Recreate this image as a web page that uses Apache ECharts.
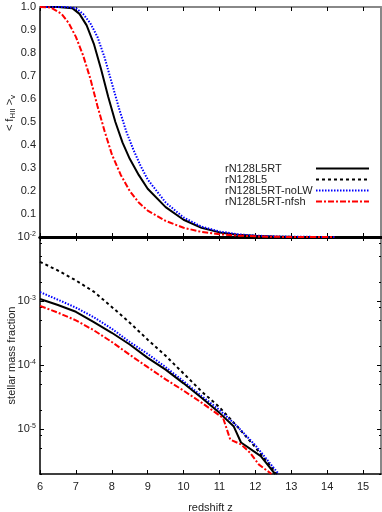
<!DOCTYPE html>
<html>
<head>
<meta charset="utf-8">
<script src="https://cdn.jsdelivr.net/npm/echarts@6/dist/echarts.min.js"></script>
<style>
  html, body { margin: 0; padding: 0; background: #fff; }
  #chart { width: 382px; height: 512px; }
</style>
</head>
<body>
<div id="chart"></div>
<script>
// names of the runs
var names = ['rN128L5RT', 'rN128L5', 'rN128L5RT-noLW', 'rN128L5RT-nfsh'];

// top panel: volume weighted ionized fraction
var zTopRT = [6, 6.5, 6.9, 7.1, 7.3, 7.5, 7.7, 7.9, 8.1, 8.3, 8.5, 8.75, 9, 9.5, 10, 10.5, 11, 11.5, 12, 12.5, 13, 14.2];
var fhiiRT = [1, 1, 0.995, 0.97, 0.92, 0.84, 0.73, 0.61, 0.5, 0.41, 0.34, 0.27, 0.21, 0.13, 0.075, 0.04, 0.02, 0.01, 0.005, 0.002, 0.001, 0];
var zTopNoLW = [6, 6.7, 7.0, 7.2, 7.4, 7.6, 7.8, 8.0, 8.2, 8.4, 8.6, 8.8, 9, 9.5, 10, 10.5, 11, 11.5, 12, 12.5, 13, 14.2];
var fhiiNoLW = [1, 1, 0.995, 0.97, 0.93, 0.87, 0.78, 0.67, 0.56, 0.46, 0.38, 0.31, 0.25, 0.15, 0.085, 0.045, 0.024, 0.012, 0.006, 0.003, 0.001, 0];
var zTopNfsh = [6, 6.3, 6.6, 6.8, 7.0, 7.2, 7.4, 7.6, 7.8, 8.0, 8.25, 8.5, 8.75, 9, 9.5, 10, 10.5, 11, 11.5, 12, 12.5, 13, 14.2];
var fhiiNfsh = [1, 0.998, 0.97, 0.93, 0.87, 0.79, 0.69, 0.57, 0.46, 0.36, 0.27, 0.2, 0.15, 0.115, 0.07, 0.04, 0.022, 0.012, 0.006, 0.003, 0.001, 0, 0];

// bottom panel: stellar mass fraction
var zStarL5 = [6, 6.5, 7, 7.5, 8, 8.5, 9, 9.5, 10, 10.5, 11, 11.5, 12, 12.6];
var mstarL5 = [4.1e-3, 3.0e-3, 2.1e-3, 1.4e-3, 8.1e-4, 4.6e-4, 2.5e-4, 1.4e-4, 7.4e-5, 3.9e-5, 2.2e-5, 1.1e-5, 5.2e-6, 2.0e-6];
var zStarNoLW = [6, 6.5, 7, 7.5, 8, 8.5, 9, 9.5, 10, 10.5, 11, 11.5, 12, 12.65];
var mstarNoLW = [1.38e-3, 1.05e-3, 7.9e-4, 5.6e-4, 3.7e-4, 2.3e-4, 1.5e-4, 9.3e-5, 5.6e-5, 3.3e-5, 2.0e-5, 1.1e-5, 5.6e-6, 2.0e-6];
var zStarRT = [6, 6.5, 7, 7.5, 8, 8.5, 9, 9.5, 10, 10.5, 11, 11.4, 11.6, 12.15, 12.55];
var mstarRT = [1.08e-3, 8.7e-4, 6.8e-4, 4.7e-4, 3.2e-4, 2.1e-4, 1.3e-4, 8.5e-5, 5.2e-5, 3.1e-5, 1.8e-5, 1.1e-5, 6.2e-6, 3.8e-6, 2.0e-6];
var zStarNfsh = [6, 6.5, 7, 7.5, 8, 8.5, 9, 9.5, 10, 10.5, 11.1, 11.3, 11.6, 11.85, 12.1, 12.45];
var mstarNfsh = [8.4e-4, 6.6e-4, 5.0e-4, 3.5e-4, 2.3e-4, 1.45e-4, 9.3e-5, 6.0e-5, 4.0e-5, 2.6e-5, 1.5e-5, 6.9e-6, 5.8e-6, 4.3e-6, 2.8e-6, 2.0e-6];

// tick values
var zTicks = [6, 7, 8, 9, 10, 11, 12, 13, 14, 15];
var majorTicks = [1e-5, 1e-4, 1e-3, 1e-2];
var minorTicks = [2e-6, 5e-6, 8e-6, 2e-5, 5e-5, 8e-5, 2e-4, 5e-4, 8e-4, 2e-3, 5e-3, 8e-3];

function zip(xs, ys) {
    var out = [];
    for (var i = 0; i < xs.length; i++) out.push([xs[i], ys[i]]);
    return out;
}

var font = 'Liberation Sans';
var txt = '#222';
var styles = {
    'rN128L5RT': { color: '#000', type: 'solid' },
    'rN128L5': { color: '#000', type: [3, 3] },
    'rN128L5RT-noLW': { color: '#0000ff', type: [1.5, 1.5] },
    'rN128L5RT-nfsh': { color: '#ff0000', type: [6, 2, 2, 2] }
};

function lineSeries(name, data, xi, yi) {
    return {
        name: name,
        type: 'line',
        xAxisIndex: xi,
        yAxisIndex: yi,
        data: data,
        symbol: 'none',
        lineStyle: { color: styles[name].color, width: 2, type: styles[name].type },
        itemStyle: { color: styles[name].color },
        animation: false
    };
}

function xAx(grid, pos, opts) {
    var a = {
        type: 'value', gridIndex: grid, position: pos, min: 6, max: 15.5, interval: 1,
        axisLine: { show: true, onZero: false, lineStyle: { color: '#000', width: 1.5 } },
        axisTick: { show: true, inside: true, length: 4, lineStyle: { color: '#000' }, customValues: zTicks },
        axisLabel: { show: false },
        splitLine: { show: false }
    };
    for (var k in opts) a[k] = opts[k];
    return a;
}

var option = {
    backgroundColor: '#fff',
    animation: false,
    textStyle: { fontFamily: font },
    grid: [
        { left: 40, right: 1, top: 7, height: 230, outerBoundsMode: 'none', containLabel: false },
        { left: 40, right: 1, top: 237, height: 237, outerBoundsMode: 'none', containLabel: false }
    ],
    legend: {
        orient: 'vertical',
        left: 220,
        top: 158,
        align: 'right',
        itemWidth: 53,
        itemHeight: 9,
        itemGap: 0,
        itemStyle: { opacity: 0 },
        formatter: function (name) { return '{a|' + name + '}'; },
        textStyle: { fontSize: 11, color: txt, fontFamily: font,
            rich: { a: { width: 86, lineHeight: 12, align: 'left', fontSize: 11, color: txt, fontFamily: font } } },
        data: names
    },
    xAxis: [
        xAx(0, 'bottom', { axisLine: { show: true, onZero: false, lineStyle: { color: '#000', width: 3 } } }),
        xAx(0, 'top', { axisLine: { show: true, onZero: false, lineStyle: { color: '#888', width: 2 } } }),
        xAx(1, 'bottom', {
            name: 'redshift z', nameLocation: 'middle', nameGap: 28,
            nameTextStyle: { fontSize: 11, color: txt, fontFamily: font },
            axisLabel: { show: true, margin: 7, fontSize: 11, color: txt, fontFamily: font, customValues: zTicks }
        }),
        xAx(1, 'top', { axisLine: { show: true, onZero: false, lineStyle: { color: '#000', width: 3 } } })
    ],
    yAxis: [
        {
            type: 'value', gridIndex: 0, position: 'left', min: 0, max: 1, interval: 0.1,
            name: '< f{sub|HII} >{sub|v}', nameLocation: 'middle', nameGap: 23, nameRotate: 90,
            nameMoveOverlap: false,
            nameTextStyle: { fontSize: 11, color: txt, fontFamily: font, padding: [0, 0, 0, 18],
                rich: { sub: { fontSize: 8, verticalAlign: 'bottom', padding: [6, 0, 0, 0] } } },
            axisLine: { show: true, lineStyle: { color: '#000', width: 1.5 } },
            axisTick: { show: false },
            axisLabel: { fontSize: 11, color: txt, fontFamily: font, margin: 4,
                formatter: function (v) { return v === 0 ? '' : v.toFixed(1); } },
            splitLine: { show: false }
        },
        {
            type: 'value', gridIndex: 0, position: 'right', min: 0, max: 1, interval: 0.1,
            axisLine: { show: true, lineStyle: { color: '#888', width: 2 } },
            axisTick: { show: false }, axisLabel: { show: false }, splitLine: { show: false }
        },
        {
            type: 'log', logBase: 10, gridIndex: 1, position: 'left', min: 2e-6, max: 1e-2,
            name: 'stellar mass fraction', nameLocation: 'middle', nameGap: 23, nameRotate: 90,
            nameMoveOverlap: false,
            nameTextStyle: { fontSize: 11, color: txt, fontFamily: font },
            axisLine: { show: true, lineStyle: { color: '#000', width: 1.5 } },
            axisTick: { show: true, inside: true, length: 4, customValues: majorTicks, lineStyle: { color: '#000' } },
            axisLabel: {
                fontSize: 11, color: txt, fontFamily: font, margin: 4, customValues: majorTicks,
                formatter: function (v) {
                    var e = Math.round(Math.log10(v));
                    return '{b|10}{s|' + e + '}';
                },
                rich: {
                    b: { fontSize: 11, color: txt, fontFamily: font },
                    s: { fontSize: 7, color: txt, fontFamily: font, verticalAlign: 'top', padding: [0, 0, 6, 0] }
                }
            },
            splitLine: { show: false }
        },
        {
            type: 'log', logBase: 10, gridIndex: 1, position: 'left', min: 2e-6, max: 1e-2,
            axisLine: { show: false },
            axisTick: { show: true, inside: true, length: 2, customValues: minorTicks, lineStyle: { color: '#000' } },
            axisLabel: { show: false }, splitLine: { show: false }
        },
        {
            type: 'log', logBase: 10, gridIndex: 1, position: 'right', min: 2e-6, max: 1e-2,
            axisLine: { show: true, lineStyle: { color: '#888', width: 2 } },
            axisTick: { show: true, inside: true, length: 4, customValues: majorTicks, lineStyle: { color: '#000' } },
            axisLabel: { show: false }, splitLine: { show: false }
        },
        {
            type: 'log', logBase: 10, gridIndex: 1, position: 'right', min: 2e-6, max: 1e-2,
            axisLine: { show: false },
            axisTick: { show: true, inside: true, length: 2, customValues: minorTicks, lineStyle: { color: '#000' } },
            axisLabel: { show: false }, splitLine: { show: false }
        }
    ],
    series: [
        lineSeries('rN128L5RT', zip(zTopRT, fhiiRT), 0, 0),
        lineSeries('rN128L5RT-noLW', zip(zTopNoLW, fhiiNoLW), 0, 0),
        lineSeries('rN128L5RT-nfsh', zip(zTopNfsh, fhiiNfsh), 0, 0),
        lineSeries('rN128L5', zip(zStarL5, mstarL5), 2, 2),
        lineSeries('rN128L5RT-noLW', zip(zStarNoLW, mstarNoLW), 2, 2),
        lineSeries('rN128L5RT', zip(zStarRT, mstarRT), 2, 2),
        lineSeries('rN128L5RT-nfsh', zip(zStarNfsh, mstarNfsh), 2, 2)
    ]
};

var myChart = echarts.init(document.getElementById('chart'));
myChart.setOption(option);
</script>
</body>
</html>
